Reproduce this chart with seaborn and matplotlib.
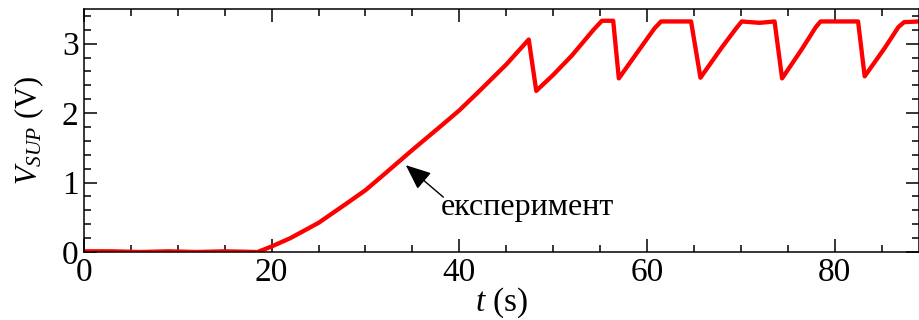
import matplotlib
matplotlib.use("Agg")
import matplotlib.pyplot as plt
import seaborn as sns
import pandas as pd
from matplotlib.ticker import MultipleLocator

# data
t_s = [0, 3, 6, 9, 12, 15, 18.5, 20, 22, 25, 28, 30, 32, 35, 38, 40, 42, 45, 47.4,
       48.2, 50, 52, 54.3, 55.2, 56.4,
       57.0, 59, 60.8, 61.5, 64.7,
       65.7, 68, 69.5, 70.1, 72, 73.6,
       74.4, 76.5, 78.0, 78.5, 82.5,
       83.2, 85.3, 86.8, 87.4, 89]
v_sup = [0.01, 0.01, 0.0, 0.01, 0.0, 0.01, 0.0, 0.08, 0.2, 0.42, 0.70, 0.89, 1.12, 1.47, 1.81, 2.04, 2.30, 2.70, 3.06,
         2.32, 2.55, 2.83, 3.20, 3.33, 3.33,
         2.50, 2.88, 3.22, 3.32, 3.32,
         2.51, 2.95, 3.22, 3.32, 3.30, 3.32,
         2.50, 2.92, 3.24, 3.32, 3.32,
         2.53, 2.93, 3.24, 3.31, 3.32]
annotation_text = "експеримент"
xlabel = "$t$ (s)"
ylabel = "$V_{SUP}$ (V)"

df = pd.DataFrame({"t": t_s, "v": v_sup})

sns.set_theme(style="ticks")
plt.rcParams["font.family"] = ["Liberation Serif", "DejaVu Serif"]
plt.rcParams["mathtext.fontset"] = "custom"
plt.rcParams["mathtext.rm"] = "Liberation Serif"
plt.rcParams["mathtext.it"] = "Liberation Serif:italic"
plt.rcParams["text.color"] = "black"
plt.rcParams["axes.labelcolor"] = "black"

fig = plt.figure(figsize=(9.2, 3.2), dpi=100)
ax = fig.add_axes([0.0913, 0.2125, 0.9077, 0.7595])

sns.lineplot(data=df, x="t", y="v", ax=ax, color="#ff0000", linewidth=3.1,
             estimator=None, sort=False)

ax.set_xlim(0, 89)
ax.set_ylim(0, 3.5)
ax.xaxis.set_major_locator(MultipleLocator(20))
ax.xaxis.set_minor_locator(MultipleLocator(5))
ax.yaxis.set_major_locator(MultipleLocator(1))
ax.yaxis.set_minor_locator(MultipleLocator(0.2))
ax.tick_params(which="both", direction="in", top=True, right=True,
               labelsize=24, colors="black", width=1.1)
ax.tick_params(which="major", length=9.5, pad=4)
ax.tick_params(which="minor", length=5)
for s in ax.spines.values():
    s.set_linewidth(1.1)
    s.set_color("black")

ax.set_xlabel(xlabel, fontsize=24, labelpad=-2)
ax.set_ylabel(ylabel, fontsize=22, labelpad=11)

ax.annotate("", xy=(34.3, 1.25), xytext=(38.3, 0.79),
            arrowprops=dict(arrowstyle="-|>,head_length=1.3,head_width=0.55",
                            color="black", lw=1.0, shrinkA=0, shrinkB=0))
ax.text(38.0, 0.64, annotation_text, fontsize=23, ha="left", va="center")

fig.savefig("out.png", dpi=100)
